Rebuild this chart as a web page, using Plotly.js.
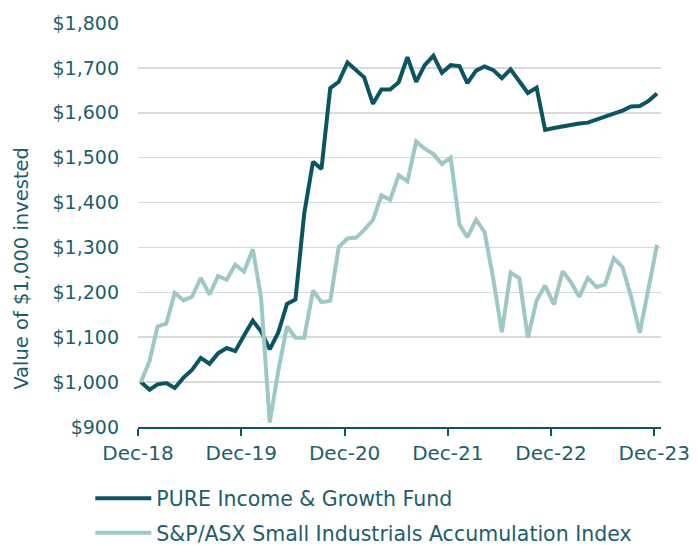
<!DOCTYPE html>
<html>
<head>
<meta charset="utf-8">
<script src="https://cdn.plot.ly/plotly-3.0.1.min.js"></script>
<style>
  html, body { margin: 0; padding: 0; background: #fff; }
  #chart { width: 698px; height: 546px; }
</style>
</head>
<body>
<div id="chart"></div>
<script>
// Monthly values of $1,000 invested, Dec-18 .. Dec-23 (61 month-ends)
const startYear = 2018;
const startMonth = 12;
const monthCount = 61;

const fundName = "PURE Income & Growth Fund";
const fundValues = [
  1000, 983, 995, 998, 987, 1010, 1027, 1054, 1041, 1064, 1076,
  1069, 1104, 1137, 1113, 1073, 1110, 1174, 1184, 1376, 1491, 1475,
  1655, 1669, 1712, 1696, 1679, 1620, 1652, 1652, 1668, 1724, 1669,
  1706, 1727, 1689, 1706, 1704, 1666, 1694, 1703, 1695, 1677, 1697,
  1670, 1644, 1656, 1562, 1566, 1570, 1573, 1576, 1578, 1584, 1590,
  1598, 1605, 1614, 1615, 1626, 1643
];

const indexName = "S&P/ASX Small Industrials Accumulation Index";
const indexValues = [
  1000, 1047, 1124, 1130, 1199, 1182, 1190, 1232, 1195, 1236, 1228,
  1262, 1246, 1296, 1190, 910, 1024, 1124, 1099, 1099, 1204, 1178,
  1181, 1301, 1320, 1322, 1339, 1361, 1416, 1406, 1461, 1447, 1536,
  1520, 1508, 1486, 1500, 1351, 1323, 1362, 1334, 1229, 1111, 1244,
  1231, 1099, 1182, 1215, 1173, 1247, 1224, 1190, 1232, 1212, 1217,
  1276, 1256, 1191, 1110, 1206, 1306
];

const tickLabels = ["Dec-18", "Dec-19", "Dec-20", "Dec-21", "Dec-22", "Dec-23"];
const tickDates = ["2018-12-21", "2019-12-21", "2020-12-21", "2021-12-21", "2022-12-21", "2023-12-21"];
const yTickValues = [900, 1000, 1100, 1200, 1300, 1400, 1500, 1600, 1700, 1800];

// month-end dates
function pad(n) { return (n < 10 ? "0" : "") + n; }
const months = [];
for (let i = 0; i < monthCount; i++) {
  const d = new Date(Date.UTC(startYear, startMonth - 1 + i + 1, 0));
  months.push(d.getUTCFullYear() + "-" + pad(d.getUTCMonth() + 1) + "-" + pad(d.getUTCDate()));
}

const dark = "#0b5563";
const light = "#9dc8c6";
const textColor = "#1d5e6b";
const FONT = "DejaVu Sans, sans-serif";

const traces = [
  {
    x: months, y: fundValues, name: fundName, type: "scatter", mode: "lines",
    line: { color: dark, width: 4 }, legendgroup: "a"
  },
  {
    x: months, y: indexValues, name: indexName, type: "scatter", mode: "lines",
    line: { color: light, width: 4 }, legendgroup: "b"
  }
];

const layout = {
  width: 698, height: 546,
  margin: { l: 138, r: 37, t: 23, b: 119, autoexpand: false },
  paper_bgcolor: "#ffffff",
  plot_bgcolor: "#ffffff",
  font: { family: FONT, color: textColor, size: 19 },
  showlegend: true,
  legend: {
    orientation: "v",
    x: -0.0912, xanchor: "left",
    y: -0.127, yanchor: "top",
    font: { family: FONT, size: 20.5, color: textColor },
    bgcolor: "rgba(0,0,0,0)",
    itemwidth: 56,
    tracegroupgap: 5,
    traceorder: "grouped"
  },
  xaxis: {
    type: "date",
    range: ["2018-12-21", "2024-01-14"],
    tickmode: "array",
    tickvals: tickDates,
    ticktext: tickLabels,
    showgrid: false,
    zeroline: false,
    showline: true,
    linecolor: dark,
    linewidth: 2,
    ticks: "outside",
    ticklen: 7,
    tickwidth: 2,
    tickcolor: dark,
    tickfont: { family: FONT, size: 20, color: textColor }
  },
  yaxis: {
    range: [900, 1800],
    tickmode: "array",
    tickvals: yTickValues,
    ticktext: yTickValues.map(v => "$" + v.toLocaleString("en-US")),
    showgrid: true,
    gridcolor: "#d9d9d9",
    gridwidth: 1.6,
    zeroline: false,
    showline: false,
    ticks: "",
    ticklabelstandoff: 18,
    tickfont: { family: FONT, size: 19, color: textColor }
  },
  annotations: [
    {
      text: "Value of $1,000 invested",
      xref: "paper", yref: "paper",
      x: -0.222, y: 0.394,
      xanchor: "center", yanchor: "middle",
      textangle: -90,
      showarrow: false,
      font: { family: FONT, size: 19.5, color: textColor }
    }
  ]
};

Plotly.newPlot("chart", traces, layout, { displayModeBar: false, staticPlot: true });
</script>
</body>
</html>
